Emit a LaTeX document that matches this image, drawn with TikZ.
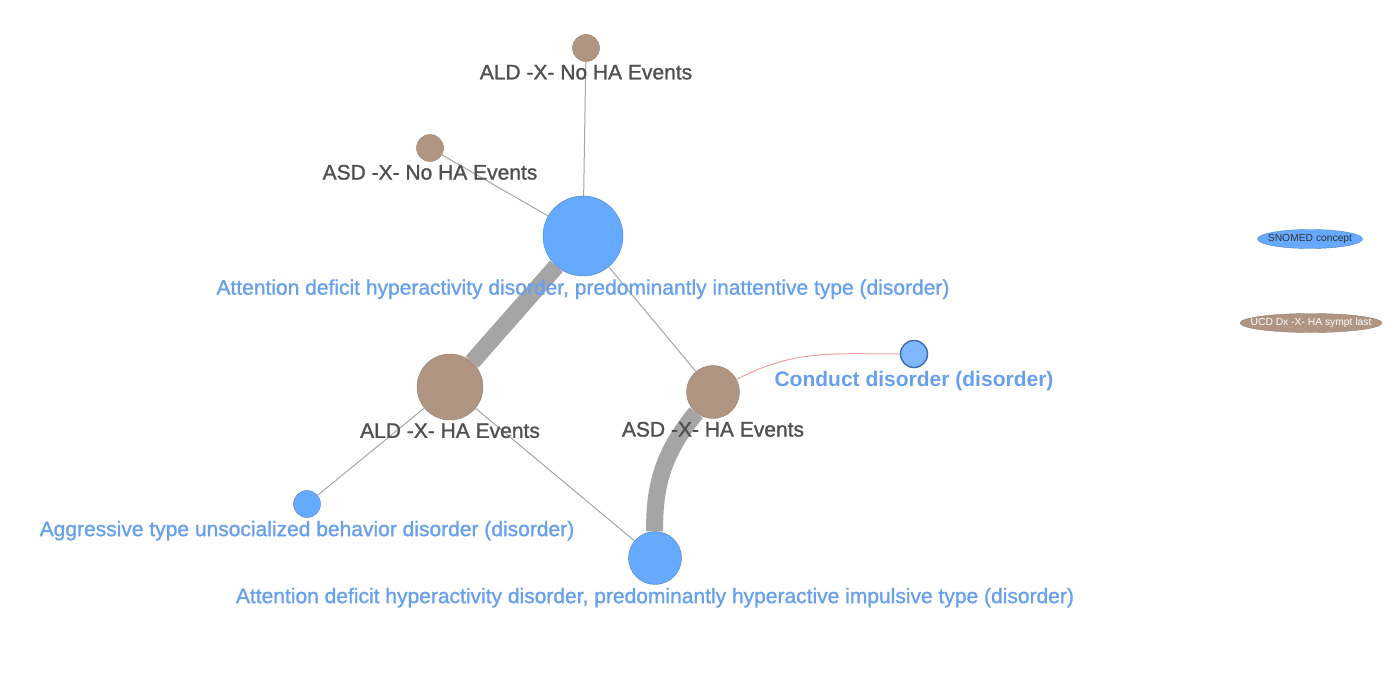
\documentclass[tikz,border=0pt]{standalone}
\usepackage{fontspec}
\setmainfont{Liberation Sans}
\newfontfamily\lblfont{Liberation Sans}[RawFeature={embolden=1.2}]
\usetikzlibrary{positioning,shapes.geometric}
\definecolor{cblue}{RGB}{102,170,255}
\definecolor{cbluedk}{RGB}{74,128,208}
\definecolor{cbluelt}{RGB}{128,184,255}
\definecolor{cbrown}{RGB}{176,149,130}
\definecolor{cbrowndk}{RGB}{150,125,108}
\definecolor{lblue}{RGB}{104,160,236}
\definecolor{lgrey}{RGB}{80,80,80}
\definecolor{egrey}{RGB}{165,165,165}
\definecolor{epink}{RGB}{236,160,160}

\begin{document}
\begin{tikzpicture}[x=1pt, y=-1pt, node distance=3pt,
  snomed/.style={draw=cbluedk, fill=cblue, circle, inner sep=0pt},
  ucdx/.style={draw=cbrowndk, fill=cbrown, circle, inner sep=0pt},
  bluetext/.style={text=lblue, inner sep=0pt, font=\lblfont\fontsize{21}{25}\selectfont},
  greytext/.style={text=lgrey, inner sep=0pt, font=\lblfont\fontsize{21}{25}\selectfont},
  thinedge/.style={draw=egrey, line width=1pt},
  thickedge/.style={draw=egrey, line width=17pt},
  legend/.style={ellipse, inner xsep=-20pt, inner ysep=-10pt, minimum height=19pt, font=\fontsize{10.3}{12}\selectfont}]

\useasboundingbox (0,0) rectangle (1395,699);

% UCD Dx nodes
\node[ucdx, minimum size=27pt] (aldNo) at (586,48) {};
\node[ucdx, minimum size=27pt] (asdNo) at (430,148) {};
\node[ucdx, minimum size=66pt] (aldHA) at (450,387) {};
\node[ucdx, minimum size=53pt] (asdHA) at (713,392) {};

% SNOMED nodes
\node[snomed, minimum size=80pt] (inatt) at (583,236) {};
\node[snomed, minimum size=53pt] (hyper) at (655,558) {};
\node[snomed, minimum size=27pt] (aggr) at (307,504) {};
\node[snomed, minimum size=27pt, fill=cbluelt, draw=cbluedk!85!black, line width=1.5pt] (conduct) at (914,354) {};

% Edges
\draw[thinedge] (aldNo) -- (inatt);
\draw[thinedge] (asdNo) -- (inatt);
\draw[thickedge] (inatt) -- (aldHA);
\draw[thinedge] (inatt) -- (asdHA);
\draw[thinedge] (aldHA) -- (aggr);
\draw[thinedge] (aldHA) -- (hyper);
\draw[thickedge] (asdHA) to[bend right=20] (hyper);
\draw[draw=epink, line width=1pt] (asdHA) to[out=28, in=180] (conduct);

% Labels
\node[greytext, below=of aldNo] (aldNoL) {ALD -X- No HA Events};
\node[greytext, below=of asdNo] (asdNoL) {ASD -X- No HA Events};
\node[greytext, below=of aldHA] (aldHAL) {ALD -X- HA Events};
\node[greytext, below=of asdHA] (asdHAL) {ASD -X- HA Events};
\node[bluetext, below=of inatt] (inattL) {Attention deficit hyperactivity disorder, predominantly inattentive type (disorder)};
\node[bluetext, below=of hyper] (hyperL) {Attention deficit hyperactivity disorder, predominantly hyperactive impulsive type (disorder)};
\node[bluetext, below=of aggr] (aggrL) {Aggressive type unsocialized behavior disorder (disorder)};
\node[bluetext, below=of conduct, font=\fontsize{21}{25}\selectfont\bfseries] (conductL) {Conduct disorder (disorder)};

% Legend
\node[legend, draw=cbluedk, fill=cblue, minimum width=105pt, text=black!80] (legSnomed) at (1310,239) {SNOMED concept};
\node[legend, draw=cbrowndk, fill=cbrown, minimum width=142pt, text=white] (legUcd) at (1311,323) {UCD Dx -X- HA sympt last};
\end{tikzpicture}
\end{document}
